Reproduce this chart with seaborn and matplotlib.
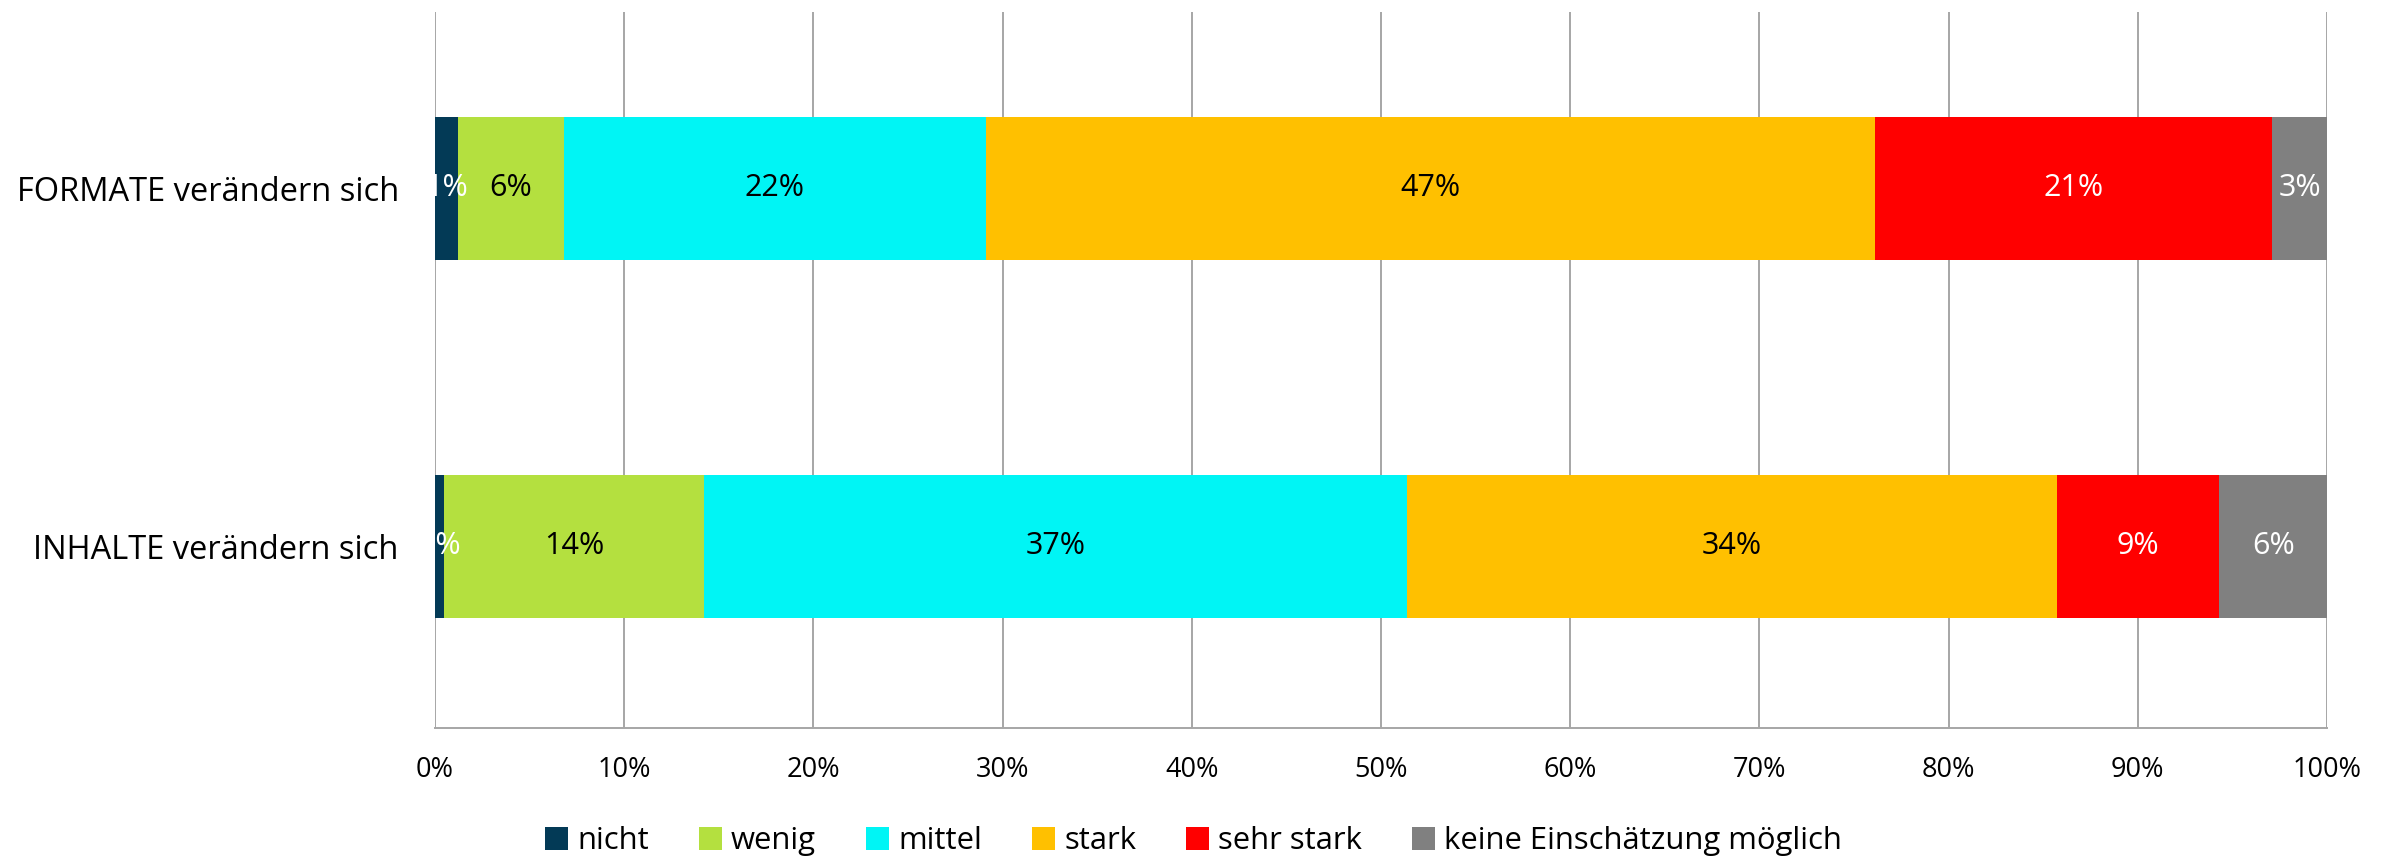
import numpy as np
import pandas as pd
import seaborn as sns
import matplotlib.pyplot as plt
from matplotlib.patches import Patch
from matplotlib.ticker import PercentFormatter

categories = ["FORMATE verändern sich", "INHALTE verändern sich"]
levels = ["nicht", "wenig", "mittel", "stark", "sehr stark", "keine Einschätzung möglich"]
formate = [1.2, 5.6, 22.3, 47.0, 21.0, 2.9]
inhalte = [0.5, 13.7, 37.2, 34.3, 8.6, 5.7]
colors = ["#033A56", "#B4E03F", "#00F5F5", "#FFC000", "#FF0000", "#808080"]
text_colors = ["white", "black", "black", "black", "white", "white"]

sns.set_style("white")
plt.rcParams["font.family"] = ["Open Sans", "DejaVu Sans"]
plt.rcParams["text.color"] = "black"
plt.rcParams["xtick.color"] = "black"
plt.rcParams["ytick.color"] = "black"
FS = 22

df = pd.DataFrame({"cat": categories})
for i, lev in enumerate(levels):
    df[lev] = [formate[i], inhalte[i]]
cum = df[levels].cumsum(axis=1)

fig = plt.figure(figsize=(23.87, 8.59), dpi=100)
ax = fig.add_axes([0.1822, 0.1525, 0.9749 - 0.1822, 0.986 - 0.1525])

# draw cumulative totals widest first so each segment shows on top
for i in reversed(range(len(levels))):
    plot_df = pd.DataFrame({"cat": categories, "val": cum[levels[i]].values})
    sns.barplot(data=plot_df, x="val", y="cat", color=colors[i], width=0.4,
                orient="h", ax=ax, saturation=1, edgecolor="none", linewidth=0, zorder=3)

# segment labels
for r in range(len(categories)):
    left = 0
    for i, lev in enumerate(levels):
        w = df.loc[r, lev]
        ax.text(left + w / 2, r, f"{w:.0f}%", ha="center", va="center",
                color=text_colors[i], fontsize=FS, zorder=4)
        left += w

ax.set_xlim(0, 100)
ax.set_ylim(1.508, -0.492)
ax.set_xticks(np.arange(0, 101, 10))
ax.xaxis.set_major_formatter(PercentFormatter(decimals=0))
ax.grid(axis="x", color="#A6A6A6", linewidth=1.4, zorder=0)
ax.grid(axis="y", visible=False)
ax.set_axisbelow(True)
for s in ["top", "right", "left"]:
    ax.spines[s].set_visible(False)
ax.spines["bottom"].set_color("#A6A6A6")
ax.spines["bottom"].set_linewidth(1.4)
ax.tick_params(axis="x", length=0, pad=20, labelsize=19.5)
ax.tick_params(axis="y", length=0, pad=26, labelsize=23.5)
ax.set_xlabel("")
ax.set_ylabel("")

handles = [Patch(facecolor=c, edgecolor="none", label=l) for c, l in zip(colors, levels)]
fig.legend(handles=handles, loc="center", bbox_to_anchor=(0.5, 0.021), ncol=6,
           frameon=False, fontsize=22.3, handlelength=0.75, handleheight=0.75,
           handletextpad=0.3, columnspacing=1.6)

fig.savefig("out.png", dpi=100)
